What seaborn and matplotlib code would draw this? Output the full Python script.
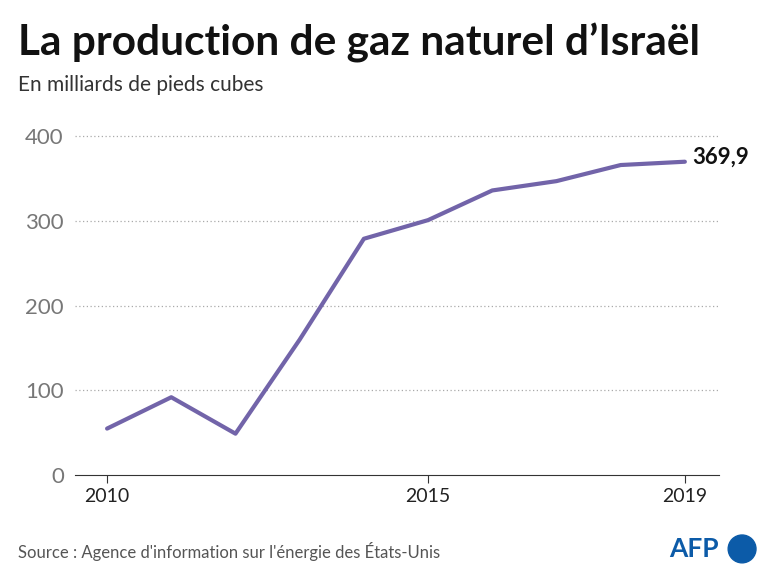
import matplotlib
matplotlib.use("Agg")
import matplotlib.pyplot as plt
from matplotlib.patches import Ellipse
import seaborn as sns
import pandas as pd

years = [2010, 2011, 2012, 2013, 2014, 2015, 2016, 2017, 2018, 2019]
production = [55, 92, 49, 160, 279, 301, 336, 347, 366, 369.9]
tick_years = [2010, 2015, 2019]

sns.set_style("white")
plt.rcParams["font.family"] = ["Lato", "DejaVu Sans"]

df = pd.DataFrame({"year": years, "value": production})

fig = plt.figure(figsize=(7.73, 5.76), dpi=100)
ax = fig.add_axes([0.097, 0.175, 0.833, 0.615])

sns.lineplot(data=df, x="year", y="value", ax=ax, color="#7264a9", linewidth=3)

ax.set_xlim(2009.5, 2019.53)
ax.set_ylim(0, 418)
ax.set_yticks([0, 100, 200, 300, 400])
ax.set_xticks(tick_years)
ax.set_xticklabels([str(y) for y in tick_years])
ax.set_xlabel("")
ax.set_ylabel("")
for y in [100, 200, 300, 400]:
    ax.axhline(y, color="#aaaaaa", linestyle=(0, (1, 2)), linewidth=0.9, zorder=0)
for s in ["top", "right", "left"]:
    ax.spines[s].set_visible(False)
ax.spines["bottom"].set_color("#333333")
ax.tick_params(axis="y", length=0, labelsize=16, labelcolor="#777777", pad=8)
ax.tick_params(axis="x", length=6, labelsize=14, color="#333333", labelcolor="#222222", bottom=True)

ax.text(years[-1] + 0.12, production[-1] + 5, "369,9", fontsize=16, fontweight="bold",
        va="center", ha="left", color="#111111")

fig.text(0.023, 0.925, "La production de gaz naturel d\u2019Israël", fontsize=30.5,
         fontweight="bold", color="#111111", va="center")
fig.text(0.023, 0.853, "En milliards de pieds cubes", fontsize=15, color="#333333", va="center")
fig.text(0.023, 0.043, "Source : Agence d'information sur l'énergie des États-Unis",
         fontsize=12, color="#555555", va="center")
fig.text(0.865, 0.047, "AFP", fontsize=19, fontweight="bold", color="#0c5ba8", va="center")
fig.patches.append(Ellipse((0.96, 0.047), 0.036, 0.036 * 773 / 576, transform=fig.transFigure,
                           color="#0c5ba8", figure=fig))

fig.savefig("out.png", dpi=100)
